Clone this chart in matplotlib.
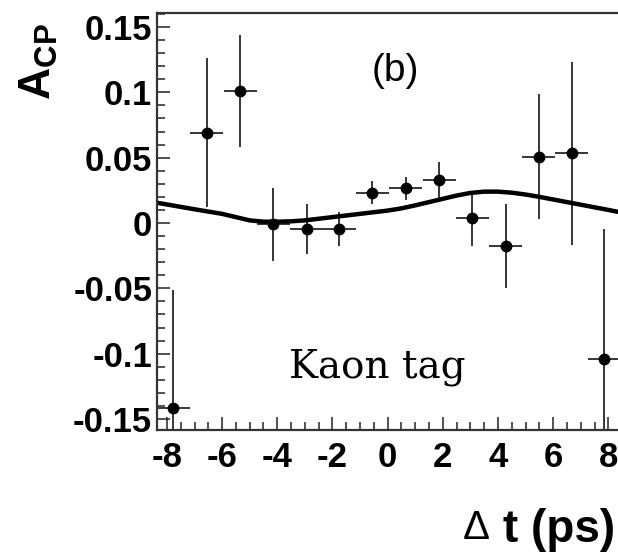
import matplotlib
matplotlib.use('Agg')
import matplotlib.pyplot as plt
from matplotlib.ticker import MultipleLocator, FixedLocator, FixedFormatter

plt.rcParams['axes.unicode_minus'] = False
plt.rcParams['mathtext.fontset'] = 'custom'
plt.rcParams['mathtext.bf'] = 'Liberation Sans:bold'
plt.rcParams['mathtext.rm'] = 'Liberation Sans'

# data points (Kaon tag)
dt = [-7.78, -6.55, -5.34, -4.14, -2.94, -1.75, -0.55, 0.66, 1.87, 3.07, 4.28, 5.47, 6.67, 7.85]
acp = [-0.1415, 0.069, 0.101, -0.001, -0.0046, -0.0048, 0.0232, 0.0265, 0.0329,
       0.0036, -0.0176, 0.0507, 0.0533, -0.1043]
acp_err = [0.09, 0.057, 0.043, 0.028, 0.019, 0.013, 0.009, 0.009, 0.014,
           0.021, 0.032, 0.048, 0.07, 0.10]
dt_err = [0.6] * 14

# fit curve
fit_x = [-8.36, -7, -6, -5, -4.5, -4, -3.5, -3, -2, -1, 0, 0.5, 1, 1.5, 2, 2.5,
         3, 3.5, 4, 4.5, 5, 5.5, 6, 6.5, 7, 7.5, 8, 8.36]
fit_y = [0.0155, 0.0105, 0.007, 0.002, 0.001, 0.001, 0.0013, 0.002, 0.0045, 0.007,
         0.0095, 0.0112, 0.0135, 0.016, 0.0185, 0.021, 0.023, 0.024, 0.024, 0.0232,
         0.0218, 0.020, 0.018, 0.016, 0.014, 0.012, 0.010, 0.0085]

xticks = [-8, -6, -4, -2, 0, 2, 4, 6, 8]
xlabels = ['-8', '-6', '-4', '-2', '0', '2', '4', '6', '8']
yticks = [-0.15, -0.1, -0.05, 0, 0.05, 0.1, 0.15]
ylabels = ['-0.15', '-0.1', '-0.05', '0', '0.05', '0.1', '0.15']

fig = plt.figure(figsize=(6.18, 5.56), dpi=100)
ax = fig.add_axes([157 / 618, 1 - 430 / 556, 1 - 157 / 618, 417 / 556])

ax.plot(fit_x, fit_y, color='black', lw=3.2)
ax.errorbar(dt, acp, yerr=acp_err, xerr=dt_err, fmt='o', color='black',
            ms=7.5, elinewidth=1.1, capsize=0)

ax.set_xlim(-8.36, 8.35)
ax.set_ylim(-0.1584, 0.1607)

ax.xaxis.set_major_locator(FixedLocator(xticks))
ax.xaxis.set_major_formatter(FixedFormatter(xlabels))
ax.xaxis.set_minor_locator(MultipleLocator(0.5))
ax.yaxis.set_major_locator(FixedLocator(yticks))
ax.yaxis.set_major_formatter(FixedFormatter(ylabels))
ax.yaxis.set_minor_locator(MultipleLocator(0.01))

ax.tick_params(which='both', direction='in', color='#333333', width=1.2,
               top=False, right=False)
ax.tick_params(which='major', length=9.5)
ax.tick_params(which='minor', length=5.5)
ax.tick_params(axis='y', pad=3.5)
ax.tick_params(axis='x', pad=8)
for lab in ax.get_xticklabels() + ax.get_yticklabels():
    lab.set_fontfamily('Liberation Sans')
    lab.set_fontweight('bold')
    lab.set_fontsize(25)

for s in ax.spines.values():
    s.set_color('#333333')
    s.set_linewidth(1.6)
ax.spines['right'].set_visible(False)

ax.text(0.27, 0.116, '(b)', fontsize=28, family='Liberation Sans',
        ha='center', va='center')
ax.text(-0.36, -0.118, 'Kaon tag', fontsize=28, family='DejaVu Serif',
        ha='center', va='baseline')

fig.text(39 / 618, 1 - 62 / 556, r'$\mathbf{A}_{\mathbf{CP}}$', fontsize=32,
         rotation=90, ha='center', va='center')
fig.text(476 / 618, 1 - 528 / 556, '\u0394', fontsize=29, family='Liberation Sans',
         ha='center', va='center')
fig.text(615 / 618, 1 - 530 / 556, 't (ps)', fontsize=33, family='Liberation Sans',
         fontweight='bold', ha='right', va='center')

fig.savefig('out.png', dpi=100)
